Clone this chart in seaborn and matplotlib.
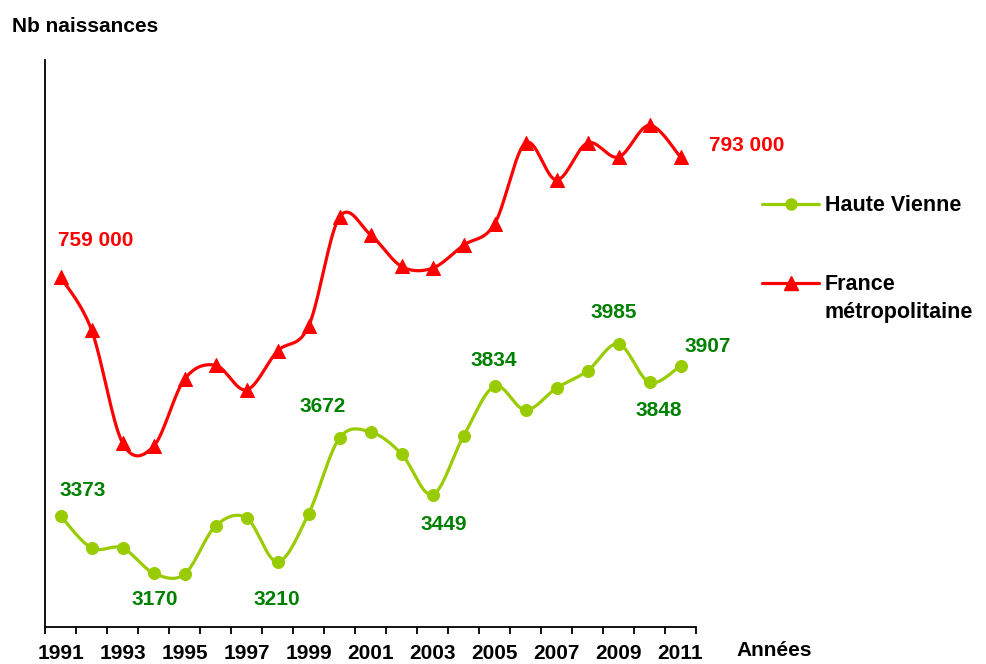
import numpy as np
import matplotlib
matplotlib.use("Agg")
import matplotlib.pyplot as plt
import seaborn as sns
from matplotlib.lines import Line2D

# data
years = list(range(1991, 2012))
haute_vienne = [3373, 3259, 3259, 3170, 3166, 3337, 3366, 3210, 3380, 3650, 3672,
                3594, 3449, 3657, 3834, 3750, 3828, 3889, 3985, 3848, 3907]
france = [759000, 744000, 712000, 711000, 730000, 734000, 727000, 738000, 745000,
          776000, 771000, 762000, 761500, 768000, 774000, 797000, 786500, 797000,
          793000, 802000, 793000]
tick_years = list(range(1991, 2012, 2))

# labelled points: year -> offset in pixels
hv_labels = {1991: (22, 25), 1994: (1, -26), 1998: (-1, -38), 2001: (-48, 25),
             2003: (11, -30), 2005: (-1, 26), 2009: (-5, 31), 2010: (9, -28),
             2011: (27, 19)}
fr_labels = {1991: (35, 36), 2011: (66, 12)}

GREEN = "#99CC00"
DKGREEN = "#008000"
RED = "#FF0000"

sns.set_style("white")
plt.rcParams['font.family'] = ['Liberation Sans', 'DejaVu Sans']
plt.rcParams['font.weight'] = 'bold'
plt.rcParams['text.color'] = 'black'
plt.rcParams['xtick.color'] = 'black'

FS = 15


def smooth(x, y, n=20):
    # excel-like smoothed line (bezier through points)
    x = np.asarray(x, float)
    y = np.asarray(y, float)
    px, py = [], []
    for i in range(len(x) - 1):
        i0 = max(i - 1, 0)
        i3 = min(i + 2, len(x) - 1)
        c1x = x[i] + (x[i + 1] - x[i0]) / 6
        c1y = y[i] + (y[i + 1] - y[i0]) / 6
        c2x = x[i + 1] - (x[i3] - x[i]) / 6
        c2y = y[i + 1] - (y[i3] - y[i]) / 6
        t = np.linspace(0, 1, n)
        px.extend((1-t)**3*x[i] + 3*(1-t)**2*t*c1x + 3*(1-t)*t**2*c2x + t**3*x[i+1])
        py.extend((1-t)**3*y[i] + 3*(1-t)**2*t*c1y + 3*(1-t)*t**2*c2y + t**3*y[i+1])
    return px, py


W, H = 986, 664
fig = plt.figure(figsize=(W / 100, H / 100), dpi=100)
ax = fig.add_axes([45 / W, 1 - 627 / H, (696 - 45) / W, (627 - 60) / H])
ax2 = ax.twinx()

# Haute Vienne
sx, sy = smooth(years, haute_vienne)
ax.plot(sx, sy, color=GREEN, lw=2.3, zorder=2)
sns.scatterplot(x=years, y=haute_vienne, ax=ax, marker='o', s=75, color=GREEN,
                edgecolor=GREEN, zorder=3, legend=False)
for yr, off in hv_labels.items():
    v = haute_vienne[years.index(yr)]
    ax.annotate(str(v), xy=(yr, v), xytext=off, textcoords='offset pixels',
                ha='center', va='center', color=DKGREEN, fontsize=FS, fontweight='bold')

# France metropolitaine
sx, sy = smooth(years, france)
ax2.plot(sx, sy, color=RED, lw=2.3, zorder=2)
sns.scatterplot(x=years, y=france, ax=ax2, marker='^', s=100, color=RED,
                edgecolor=RED, zorder=3, legend=False)
for yr, off in fr_labels.items():
    v = france[years.index(yr)]
    ax2.annotate(f"{v:,}".replace(",", " "), xy=(yr, v), xytext=off,
                 textcoords='offset pixels', ha='center', va='center',
                 color=RED, fontsize=FS, fontweight='bold')

ax.set_ylim(2978, 4995)
ax2.set_ylim(659800, 820500)
ax.set_xlim(1990.5, 2011.5)

for a in (ax, ax2):
    a.spines['top'].set_visible(False)
    a.spines['right'].set_visible(False)
    a.set_yticks([])
    a.set_ylabel("")
ax2.spines['left'].set_visible(False)
ax2.spines['bottom'].set_visible(False)
for s in ('left', 'bottom'):
    ax.spines[s].set_color('black')
    ax.spines[s].set_linewidth(1.3)

ax.set_xticks(np.arange(1990.5, 2012, 1))
ax.set_xticklabels([])
ax.tick_params(axis='x', which='major', direction='out', length=5, width=1.3,
               color='black', bottom=True)
ax.set_xticks(tick_years, minor=True)
ax.set_xticklabels([str(y) for y in tick_years], minor=True, fontsize=FS,
                   fontweight='bold', color='black')
ax.tick_params(axis='x', which='minor', length=0, pad=12.5)

fig.text(12 / W, 1 - 26 / H, "Nb naissances", ha='left', va='center',
         fontsize=FS, fontweight='bold')
fig.text(736 / W, 1 - 650 / H, "Années", ha='left', va='center',
         fontsize=FS, fontweight='bold')

# legend drawn by hand
for yy, col, mk, ms in ((204, GREEN, 'o', 8), (283, RED, '^', 9.5)):
    fig.add_artist(Line2D([762 / W, 819 / W], [1 - yy / H, 1 - yy / H],
                          transform=fig.transFigure, color=col, lw=2.3))
    fig.add_artist(Line2D([790.5 / W], [1 - yy / H], transform=fig.transFigure,
                          color=col, marker=mk, markersize=ms, lw=0))
fig.text(825 / W, 1 - 205 / H, "Haute Vienne", ha='left', va='center',
         fontsize=15.5, fontweight='bold')
fig.text(825 / W, 1 - 284 / H, "France", ha='left', va='center',
         fontsize=15.5, fontweight='bold')
fig.text(825 / W, 1 - 312 / H, "métropolitaine", ha='left', va='center',
         fontsize=15.5, fontweight='bold')

fig.savefig("out.png", dpi=100)
